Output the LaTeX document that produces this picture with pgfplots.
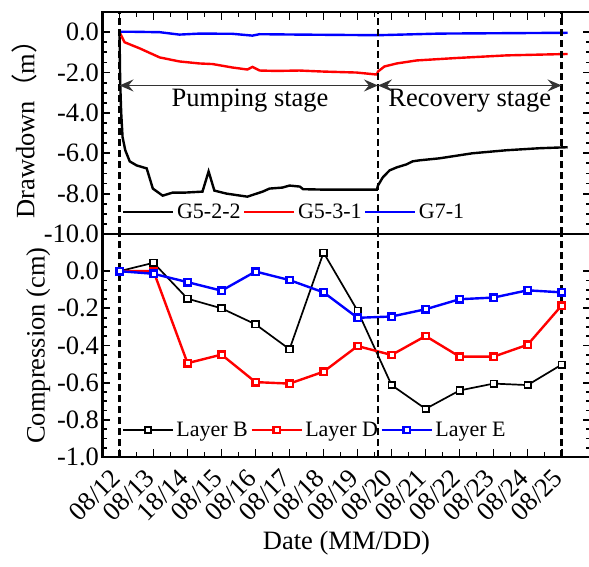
\documentclass[border=0pt]{standalone}
\usepackage{fontspec}
\setmainfont{Liberation Serif}
\newfontfamily\cjk{Noto Sans CJK SC}
\usepackage{pgfplots}
\pgfplotsset{compat=1.18}
\usetikzlibrary{arrows.meta}

\tikzset{stage/.style={black, line width=2.5pt, dash pattern=on 7pt off 4pt}}
\pgfplotsset{
  panel/.style={
    scale only axis, width=488pt,
    xmin=-0.5, xmax=13.85,
    xtick={0,...,13}, minor x tick num=1,
    minor y tick num=3,
    tick align=inside,
    major tick length=8pt, minor tick length=5pt,
    every tick/.append style={black, line width=1.8pt},
    axis line style={line width=2.8pt},
    font=\fontsize{26.5}{31}\selectfont,
    yticklabel style={/pgf/number format/.cd, fixed, fixed zerofill, precision=1, assume math mode=true},
    legend style={draw=none, fill=none, font=\fontsize{22}{26}\selectfont,
      legend columns=-1, inner sep=0pt, anchor=west,
      nodes={inner sep=2.5pt},
      /tikz/every even column/.append style={column sep=0pt}},
  },
}

\begin{document}
\begin{tikzpicture}
\begin{axis}[panel, name=top,
    at={(0,0)}, anchor=north west, height=222pt,
    ymin=-10, ymax=1, ytick={-10,-8,...,0},
    xtick pos=right, xticklabels={},
    ylabel={Drawdown{\cjk（}m{\cjk）}},
    legend style={at={(0.04,0.099)}},
    legend image code/.code={\draw[#1] (0pt,0pt) -- (50pt,0pt);},
  ]
  \addplot[black, line width=2.4pt] coordinates {
    (0,0) (0.02,-2.5) (0.05,-4.0) (0.09,-5.2) (0.17,-5.85) (0.3,-6.4) (0.5,-6.6)
    (0.8,-6.75) (0.98,-7.75) (1.27,-8.1) (1.56,-7.95) (1.91,-7.95) (2.44,-7.9)
    (2.62,-6.9) (2.79,-7.85) (3.15,-8.0) (3.76,-8.15) (4.21,-7.9) (4.41,-7.75)
    (4.79,-7.7) (5.0,-7.6) (5.3,-7.65) (5.4,-7.78) (5.97,-7.8) (7.57,-7.8)
    (7.6,-7.6) (7.74,-7.2) (7.94,-6.85) (8.15,-6.7) (8.44,-6.55) (8.62,-6.4)
    (8.82,-6.35) (9.41,-6.25) (10.38,-6.0) (11.38,-5.85) (12.35,-5.75) (13.18,-5.7)
  };
  \addplot[red, line width=2.4pt] coordinates {
    (0,0) (0.15,-0.5) (0.59,-0.8) (1.18,-1.25) (1.76,-1.45) (2.35,-1.55)
    (2.74,-1.58) (3.32,-1.75) (3.76,-1.85) (3.91,-1.72) (4.12,-1.9) (4.62,-1.92)
    (5.29,-1.9) (5.97,-1.95) (6.97,-2.0) (7.57,-2.1) (7.6,-1.95) (7.79,-1.7)
    (8.15,-1.55) (8.74,-1.4) (9.91,-1.28) (11.38,-1.15) (13.18,-1.08)
  };
  \addplot[blue, line width=2.4pt] coordinates {
    (0,0.02) (0.4,0.02) (1.18,0) (1.76,-0.12) (2.35,-0.07) (3.32,-0.08)
    (3.91,-0.17) (4.12,-0.1) (5.29,-0.12) (7.6,-0.15) (9.41,-0.07) (13.18,-0.03)
  };
  \legend{G5-2-2, G5-3-1, G7-1}
  \draw[stage] (axis cs:0,-10) -- (axis cs:0,1);
  \draw[stage] (axis cs:7.6,-10) -- (axis cs:7.6,1);
  \draw[stage] (axis cs:13,-10) -- (axis cs:13,1);
  \draw[<->, >={Stealth[length=14pt,width=12pt,inset=5pt]}, line width=1.5pt, black!80]
    (axis cs:0,-2.64) -- (axis cs:7.6,-2.64);
  \draw[<->, >={Stealth[length=14pt,width=12pt,inset=5pt]}, line width=1.5pt, black!80]
    (axis cs:7.6,-2.64) -- (axis cs:13,-2.64);
  \node at (axis cs:3.84,-3.4) {Pumping stage};
  \node at (axis cs:10.3,-3.4) {Recovery stage};
\end{axis}

\begin{axis}[panel,
    at={(top.south west)}, anchor=north west, height=223pt,
    ymin=-1, ymax=0.2, ytick={-1,-0.8,...,0.01},
    xtick pos=left,
    xticklabels={08/12,08/13,18/14,08/15,08/16,08/17,08/18,08/19,08/20,08/21,08/22,08/23,08/24,08/25},
    xticklabel style={yshift=-14pt, xshift=-1pt, rotate=45, anchor=east},
    xlabel={Date (MM/DD)},
    ylabel={Compression (cm)},
    legend style={at={(0.04,0.121)}},
    legend image code/.code={\draw[mark repeat=2,mark phase=2,#1] plot coordinates {(0pt,0pt) (25pt,0pt) (50pt,0pt)};},
    every axis plot/.append style={mark=square*, mark size=3.2pt, mark options={fill=white, solid}},
  ]
  \addplot[black, line width=1.7pt] coordinates {
    (0,0) (1,0.045) (2,-0.148) (3,-0.2) (4,-0.286) (5,-0.42) (6,0.1) (7,-0.213)
    (8,-0.613) (9,-0.741) (10,-0.642) (11,-0.605) (12,-0.613) (13,-0.503)
  };
  \addplot[red, line width=2.4pt] coordinates {
    (0,0) (1,0) (2,-0.495) (3,-0.449) (4,-0.597) (5,-0.605) (6,-0.541) (7,-0.403)
    (8,-0.451) (9,-0.349) (10,-0.46) (11,-0.46) (12,-0.396) (13,-0.185)
  };
  \addplot[blue, line width=2.4pt] coordinates {
    (0,0) (1,-0.014) (2,-0.059) (3,-0.105) (4,-0.002) (5,-0.048) (6,-0.114) (7,-0.251)
    (8,-0.244) (9,-0.205) (10,-0.151) (11,-0.142) (12,-0.103) (13,-0.114)
  };
  \legend{Layer B, Layer D, Layer E}
  \draw[stage] (axis cs:0,-1) -- (axis cs:0,0.2);
  \draw[stage] (axis cs:7.6,-1) -- (axis cs:7.6,0.2);
  \draw[stage] (axis cs:13,-1) -- (axis cs:13,0.2);
\end{axis}
\pgfresetboundingbox
\path (-102.5pt,12pt) rectangle (486.5pt,-555pt);
\end{tikzpicture}
\end{document}
